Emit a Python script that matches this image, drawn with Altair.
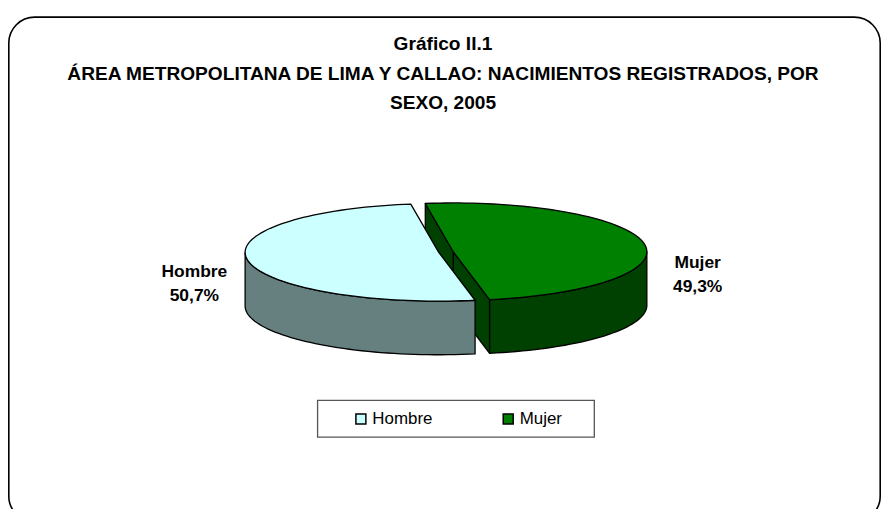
import math
import altair as alt
import pandas as pd

# ---------------- data ----------------
categories = ["Hombre", "Mujer"]
shares = [50.7, 49.3]
top_colors = ["#CCFFFF", "#008000"]
side_colors = ["#668080", "#004000"]
title_lines = [
    "Gráfico II.1",
    "ÁREA METROPOLITANA DE LIMA Y CALLAO: NACIMIENTOS REGISTRADOS, POR",
    "SEXO, 2005",
]

# ---------------- style / geometry constants ----------------
FONT = "Liberation Sans"
W, H = 877, 501
START = 98.3          # first slice angle (deg, counter-clockwise from +x)
EXPLODE = 0.038       # explosion distance (radius units)
DEPTH = 1.10          # pie thickness (y units)
STEP = 2.0
X_DOMAIN = [-2.2622, 2.2468]
Y_DOMAIN = [-5.2449, 4.9796]
LABEL_RX, LABEL_RY, LABEL_DROP = 1.28, 0.51, 0.32


def arc_angles(a, b):
    n = max(2, int(abs(b - a) / STEP) + 1)
    return [a + (b - a) * k / (n - 1) for k in range(n)]


def rim(cx, cy, a, drop=0.0):
    r = math.radians(a)
    return (cx + math.cos(r), cy + math.sin(r) - drop)


rows = []
layers_spec = []  # (poly_id, fill, order_group)
label_rows = []


def add_poly(pid, pts, fill, group):
    pts = pts + [pts[0]]
    for i, (x, y) in enumerate(pts):
        rows.append({"poly": pid, "i": i, "x": x, "y": y})
    layers_spec.append((pid, fill, group))


cursor = START
for cat, sh, tc, sc in zip(categories, shares, top_colors, side_colors):
    span = 360.0 * sh / 100.0
    a0, a1 = cursor, cursor + span
    cursor = a1
    m = (a0 + a1) / 2.0
    mr = math.radians(m)
    cx, cy = EXPLODE * math.cos(mr), EXPLODE * math.sin(mr)

    # radial faces (visible when their outward normal points to the front)
    for a, normal in ((a0, a0 - 90.0), (a1, a1 + 90.0)):
        if math.sin(math.radians(normal)) < 0:
            p_top = rim(cx, cy, a)
            p_bot = rim(cx, cy, a, DEPTH)
            add_poly(f"{cat}-radial-{a:.1f}",
                     [(cx, cy), p_top, p_bot, (cx, cy - DEPTH)], sc, 0)

    # curved front side
    for k in (-1, 0, 1, 2):
        lo = max(a0, 180.0 + 360.0 * k)
        hi = min(a1, 360.0 + 360.0 * k)
        if hi > lo:
            angs = arc_angles(lo, hi)
            pts = [rim(cx, cy, a) for a in angs] + [rim(cx, cy, a, DEPTH) for a in reversed(angs)]
            add_poly(f"{cat}-side-{k}", pts, sc, 1)

    # top face
    pts = [(cx, cy)] + [rim(cx, cy, a) for a in arc_angles(a0, a1)]
    add_poly(f"{cat}-top", pts, tc, 2)

    pct = f"{sh:.1f}".replace(".", ",") + "%"
    label_rows.append({
        "sexo": cat,
        "label": f"{cat}\n{pct}",
        "lx": cx + math.cos(mr) * LABEL_RX,
        "ly": cy + math.sin(mr) * LABEL_RY - LABEL_DROP,
    })

poly_df = pd.DataFrame(rows)
label_df = pd.DataFrame(label_rows)
one_row = alt.Data(values=[{"k": 1}])

xs = alt.Scale(domain=X_DOMAIN, nice=False, zero=False)
ys = alt.Scale(domain=Y_DOMAIN, nice=False, zero=False)

frame = alt.Chart(one_row).mark_rect(
    fill="white", stroke="black", strokeWidth=1.6, cornerRadius=26
).encode(x=alt.value(0.8), x2=alt.value(876.2), y=alt.value(8), y2=alt.value(515))

title = alt.Chart(one_row).mark_text(
    font=FONT, fontSize=19.2, fontWeight="bold", color="black", align="center",
    baseline="alphabetic", lineHeight=29.5,
).encode(x=alt.value(437), y=alt.value(41.5), text=alt.value(title_lines))

poly_layers = []
for group in (0, 1, 2):
    for pid, fill, g in layers_spec:
        if g != group:
            continue
        poly_layers.append(
            alt.Chart(poly_df).transform_filter(alt.datum.poly == pid).mark_line(
                fill=fill, stroke="black", strokeWidth=1.3, strokeJoin="round"
            ).encode(
                x=alt.X("x:Q", scale=xs, axis=None),
                y=alt.Y("y:Q", scale=ys, axis=None),
                order=alt.Order("i:Q"),
            )
        )

labels = alt.Chart(label_df).mark_text(
    font=FONT, fontSize=17.5, fontWeight="bold", color="black", align="center",
    baseline="middle", lineBreak="\n", lineHeight=24,
).encode(
    x=alt.X("lx:Q", scale=xs, axis=None),
    y=alt.Y("ly:Q", scale=ys, axis=None),
    text="label:N",
)

legend_box = alt.Chart(one_row).mark_rect(
    fill="white", stroke="#555555", strokeWidth=1.3
).encode(x=alt.value(311), x2=alt.value(589), y=alt.value(393), y2=alt.value(430))

legend_layer = alt.Chart(label_df).mark_square(opacity=0, size=100).encode(
    x=alt.X("lx:Q", scale=xs, axis=None),
    y=alt.Y("ly:Q", scale=ys, axis=None),
    color=alt.Color(
        "sexo:N",
        scale=alt.Scale(domain=categories, range=top_colors),
        legend=alt.Legend(
            title=None, orient="none", legendX=346, legendY=403,
            direction="horizontal", symbolType="square", symbolSize=100,
            symbolStrokeColor="black", symbolStrokeWidth=1.5, symbolOpacity=1,
            labelFont=FONT, labelFontSize=17, labelColor="black",
            labelOffset=3, columnPadding=67, padding=0,
        ),
    ),
)

chart = alt.layer(
    frame, title, *poly_layers, labels, legend_box, legend_layer
).properties(
    width=W, height=H, padding=0, autosize=alt.AutoSizeParams(type="none"),
    background="white",
).configure_view(stroke=None)

chart.save("out.html", embed_options={"renderer": "svg", "actions": False})
